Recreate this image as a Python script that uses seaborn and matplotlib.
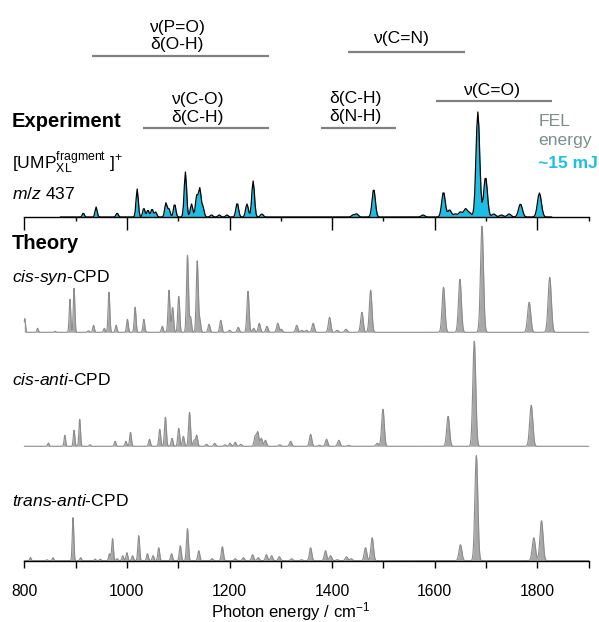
import numpy as np
import pandas as pd
import matplotlib
matplotlib.use("Agg")
import matplotlib.pyplot as plt
import matplotlib.transforms as mtransforms
from matplotlib.ticker import MultipleLocator
import seaborn as sns

sns.set_style("white")
plt.rcParams['font.family'] = ['Liberation Sans', 'DejaVu Sans']
plt.rcParams['mathtext.fontset'] = 'custom'
plt.rcParams['mathtext.rm'] = 'Liberation Sans'
plt.rcParams['mathtext.it'] = 'Liberation Sans:italic'
plt.rcParams['mathtext.bf'] = 'Liberation Sans:bold'
plt.rcParams['text.color'] = 'black'
plt.rcParams['xtick.color'] = 'black'
plt.rcParams['axes.labelcolor'] = 'black'

# peak positions (cm-1) and heights (arb. units)
exp_pos = [915, 940, 981, 1020, 1033, 1041, 1049, 1056, 1076, 1082, 1093, 1114,
           1126, 1136, 1142, 1148, 1165, 1180, 1195, 1215, 1234, 1246, 1263,
           1441, 1448, 1481, 1577, 1617, 1629, 1640, 1650, 1660, 1668, 1684,
           1699, 1715, 1730, 1745, 1767, 1804]
exp_int = [4, 10, 4, 28, 9, 7, 8, 5, 14, 8, 13, 45,
           13, 21, 28, 10, 2, 2, 2, 14, 13, 36, 3,
           2, 3, 28, 2, 25, 7, 3, 5, 8, 4, 105,
           40, 3, 2, 3, 13, 24]

cissyn_pos = [801, 826, 860, 889, 897, 925, 935, 956, 965, 979, 1001, 1016, 1033,
              1069, 1082, 1089, 1101, 1118, 1124, 1137, 1142, 1160, 1183, 1200,
              1217, 1236, 1247, 1258, 1273, 1294, 1301, 1331, 1341, 1350, 1363,
              1395, 1410, 1427, 1458, 1475, 1617, 1649, 1692, 1784, 1824]
cissyn_int = [13.7, 4, 1, 33, 44, 1.5, 7, 4, 40, 7, 13, 25, 13,
              6, 42, 25, 36, 77, 15, 71, 12, 8, 12, 2,
              5, 41, 4, 9, 6, 9, 3, 7, 2, 2, 9,
              15, 2, 3, 20, 42, 45, 53, 106, 30, 55]

cisanti_pos = [847, 879, 897, 908, 928, 977, 998, 1007, 1044, 1064, 1075, 1088,
               1101, 1110, 1122, 1131, 1136, 1155, 1171, 1191, 1201, 1211, 1222,
               1250, 1255, 1262, 1270, 1298, 1319, 1358, 1375, 1389, 1413, 1432,
               1488, 1499, 1626, 1677, 1788]
cisanti_int = [3.3, 11, 16, 27, 1.5, 5, 5, 14, 7, 17, 29, 8,
               18, 10, 34, 6, 11, 2, 3, 1.5, 3, 4, 2,
               10, 14, 8, 6, 1.5, 5, 12, 1, 7, 6, 1,
               3, 37, 30, 105, 41]

transanti_pos = [812, 844, 856, 895, 910, 938, 948, 966, 972, 981, 992, 1000, 1011,
                 1023, 1040, 1051, 1062, 1087, 1104, 1118, 1140, 1166, 1186, 1211,
                 1227, 1245, 1256, 1272, 1282, 1297, 1321, 1340, 1358, 1387, 1397,
                 1410, 1428, 1437, 1465, 1478, 1650, 1681, 1793, 1808]
transanti_int = [3.3, 1, 3, 43, 3, 1.5, 1.5, 7, 22, 2, 5, 8, 5,
                 25, 7, 5, 13, 7, 15, 32, 10, 2, 14, 2,
                 3, 6, 3, 6, 5, 4, 2, 1, 13, 10, 5,
                 1, 4, 2, 13, 23, 16, 105, 23, 40]

theory_names = ["cis-syn", "cis-anti", "trans-anti"]

band_labels = ["ν(P=O)\nδ(O-H)", "ν(C-O)\nδ(C-H)", "ν(C=N)", "δ(C-H)\nδ(N-H)", "ν(C=O)"]
band_lo = [932, 1031, 1431, 1379, 1602]
band_hi = [1277, 1276, 1658, 1525, 1828]


def broaden(grid, pos, inten, frac):
    y = np.zeros_like(grid)
    for p, h in zip(pos, inten):
        sig = frac * p / 2.355
        y += h * np.exp(-(grid - p) ** 2 / (2 * sig ** 2))
    return y


W, H = 599, 622
fig = plt.figure(figsize=(W / 100, H / 100), dpi=100)
left, width = 24.3 / W, 564.4 / W


def panel(base_px):
    ax = fig.add_axes([left, (H - base_px) / H, width, 110 / H])
    ax.patch.set_alpha(0)
    ax.set_xlim(800, 1900)
    ax.set_ylim(0, 110)
    ax.set_yticks([])
    for s in ['left', 'right', 'top']:
        ax.spines[s].set_visible(False)
    return ax


def ftext(x, y, s, **kw):
    return fig.text(x / W, 1 - y / H, s, va='baseline', **kw)


cyan = '#1cbfe3'
grey_fill = '#a8a8a8'
grey_line = '#8c8c8c'

# experiment
ax_e = panel(217)
xg = np.arange(870, 1830, 2.0)
ye = broaden(xg, exp_pos, exp_int, 0.005)
df_e = pd.DataFrame({'x': xg, 'y': ye})
ax_e.fill_between(df_e.x, 0, df_e.y, color=cyan, lw=0, clip_on=False)
sns.lineplot(data=df_e, x='x', y='y', ax=ax_e, color='black', lw=0.9,
             estimator=None, clip_on=False)
ax_e.spines['bottom'].set_color('black')
ax_e.spines['bottom'].set_linewidth(1.0)
ax_e.xaxis.set_major_locator(MultipleLocator(200))
ax_e.xaxis.set_minor_locator(MultipleLocator(100))
ax_e.tick_params(axis='x', which='major', direction='out', length=9.4, width=1.0,
                 bottom=True, labelbottom=False, color='black')
ax_e.tick_params(axis='x', which='minor', direction='out', length=3.2, width=1.0,
                 bottom=True, color='black')
ax_e.set_xlabel('')
ax_e.set_ylabel('')

# theory
grid = np.arange(800, 1900.25, 0.5)
theory = [(cissyn_pos, cissyn_int), (cisanti_pos, cisanti_int), (transanti_pos, transanti_int)]
bases = [332.3, 446.3, 560.7]
axes_t = []
for (pos, inten), base in zip(theory, bases):
    ax = panel(base)
    yt = broaden(grid, pos, inten, 0.004)
    df_t = pd.DataFrame({'x': grid, 'y': yt})
    ax.fill_between(df_t.x, 0, df_t.y, color=grey_fill, lw=0, clip_on=False)
    sns.lineplot(data=df_t, x='x', y='y', ax=ax, color=grey_line, lw=0.8,
                 estimator=None, clip_on=False)
    ax.set_xlabel('')
    ax.set_ylabel('')
    ax.spines['bottom'].set_visible(False)
    ax.tick_params(axis='x', bottom=False, labelbottom=False)
    axes_t.append(ax)

ax_b = axes_t[-1]
ax_b.spines['bottom'].set_visible(True)
ax_b.spines['bottom'].set_color('black')
ax_b.spines['bottom'].set_linewidth(1.0)
ax_b.xaxis.set_major_locator(MultipleLocator(200))
ax_b.xaxis.set_minor_locator(MultipleLocator(100))
ax_b.tick_params(axis='x', which='major', direction='out', length=4.8, width=1.0,
                 bottom=True, labelbottom=True, labelsize=11.3, pad=12, color='black')
ax_b.tick_params(axis='x', which='minor', direction='out', length=4.8, width=1.0,
                 bottom=True, color='black')
ftext(291, 617, 'Photon energy / cm$^{-1}$', fontsize=12, ha='center')

# band assignments above the experiment
trans = mtransforms.blended_transform_factory(ax_e.transData, fig.transFigure)
bar_y = [55.7, 128, 52.3, 127.7, 100.7]
lab_x = [1097, 1137, 1534, 1446, 1710]
lab_y = [49, 121.7, 43.3, 120.7, 95]
for lab, lo, hi, by, lx, ly in zip(band_labels, band_lo, band_hi, bar_y, lab_x, lab_y):
    ax_e.plot([lo, hi], [1 - by / H] * 2, transform=trans, color='#808080', lw=1.6,
              clip_on=False, solid_capstyle='butt')
    ax_e.text(lx, 1 - ly / H, lab, transform=trans, ha='center', va='baseline',
              fontsize=12.6, color='black', linespacing=1.2)

# labels
ftext(12, 127.3, 'Experiment', fontsize=14.5, fontweight='bold')
ftext(12, 169, r'[UMP$_{\mathrm{XL}}^{\mathrm{fragment}}$ ]$^{+}$', fontsize=12.6)
ftext(12, 199.3, r'$\mathit{m/z}$ 437', fontsize=12.6)
ftext(12, 249.3, 'Theory', fontsize=14.5, fontweight='bold')
for name, yb in zip(theory_names, [281.7, 385, 506]):
    ftext(12, yb, r'$\mathit{%s}$-CPD' % name.replace('-', '\\text{-}'), fontsize=12.6)
ftext(538.3, 126, 'FEL', fontsize=12.6, color='#7f8e8b')
ftext(538.3, 145, 'energy', fontsize=12.6, color='#7f8e8b')
ftext(538.3, 168.3, '~15 mJ', fontsize=12.6, color=cyan, fontweight='bold')

plt.savefig('out.png', dpi=100)
